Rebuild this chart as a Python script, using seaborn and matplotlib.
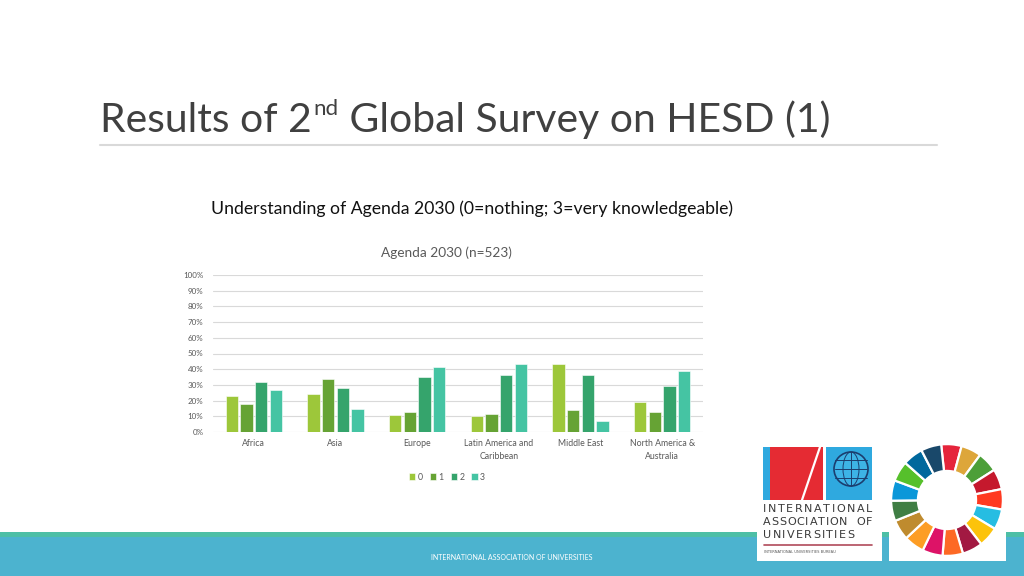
"""
Slide: Results of 2nd Global Survey on HESD (1) - Agenda 2030 understanding by region.
"""

import matplotlib

matplotlib.use("Agg")

import matplotlib.patches as mpatches
import matplotlib.pyplot as plt
import pandas as pd
import seaborn as sns


REGIONS = [
    "Africa",
    "Asia",
    "Europe",
    "Latin America and\nCaribbean",
    "Middle East",
    "North America &\nAustralia",
]
LEVELS = ["0", "1", "2", "3"]
SCORE_0 = [23, 24, 11, 10, 43, 19]
SCORE_1 = [18, 34, 13, 11.5, 14, 13]
SCORE_2 = [32, 28, 35, 36, 36, 29]
SCORE_3 = [27, 14.5, 41.5, 43, 7, 39]
Y_TICKS = [0, 10, 20, 30, 40, 50, 60, 70, 80, 90, 100]

LEVEL_COLORS = ["#9DC73A", "#66A334", "#35A46C", "#45C4A3"]
SDG_COLORS = [
    "#E5243B", "#DDA63A", "#4C9F38", "#C5192D", "#FF3A21", "#26BDE2",
    "#FCC30B", "#A21942", "#FD6925", "#DD1367", "#FD9D24", "#BF8B2E",
    "#3F7E44", "#0A97D9", "#56C02B", "#00689D", "#19486A",
]

W, H = 1024, 576
FONT = "Lato"


def fx(x):
    return x / W


def fy(y):
    return 1 - y / H


def build_frame() -> pd.DataFrame:
    rows = []
    for level, scores in zip(LEVELS, [SCORE_0, SCORE_1, SCORE_2, SCORE_3]):
        for region, value in zip(REGIONS, scores):
            rows.append({"Region": region, "Level": level, "Share": value / 100})
    return pd.DataFrame(rows)


def tracked_text(fig, text, x_left, x_right, y, **kwargs):
    """Place text char by char so that it spans x_left..x_right (letter spacing)."""
    renderer = fig.canvas.get_renderer()
    widths = []
    for ch in text:
        t = fig.text(0, 0, ch if ch != " " else "n", **kwargs)
        widths.append(t.get_window_extent(renderer).width)
        t.remove()
    extra = (x_right - x_left - sum(widths)) / max(len(text) - 1, 1)
    x = x_left
    for ch, w in zip(text, widths):
        if ch != " ":
            fig.text(fx(x), fy(y), ch, va="center", ha="left", **kwargs)
        x += w + extra


def draw_title(fig):
    renderer = fig.canvas.get_renderer()
    color = "#404040"
    x0, y0 = fx(100), fy(132)
    t1 = fig.text(x0, y0, "Results of 2", fontsize=29.4, color=color,
                  family=FONT, va="baseline")
    bb = t1.get_window_extent(renderer)
    t2 = fig.text(bb.x1 / W + 0.002, fy(115), "nd", fontsize=16, color=color,
                  family=FONT, va="baseline")
    bb = t2.get_window_extent(renderer)
    fig.text(bb.x1 / W, y0, " Global Survey on HESD (1)", fontsize=29.4,
             color=color, family=FONT, va="baseline")
    fig.add_artist(plt.Line2D([fx(100), fx(937)], [fy(145), fy(145)],
                              color="#D9D9D9", lw=1.5))


def draw_footer(fig):
    fig.add_artist(mpatches.Rectangle((0, 0), 1, fy(537), color="#4CB3CF", lw=0,
                                      zorder=-2))
    fig.add_artist(mpatches.Rectangle((0, fy(537)), 1, 5 / H, color="#4DBFA6", lw=0,
                                      zorder=-2))
    fig.text(0.5, fy(557), "INTERNATIONAL ASSOCIATION OF UNIVERSITIES",
             fontsize=5, color="white", ha="center", va="center", family=FONT)


def draw_iau_logo(fig):
    fig.add_artist(mpatches.Rectangle((fx(757), fy(561)), 125 / W, 120 / H,
                                      color="white", lw=0, zorder=-1))
    fig.add_artist(mpatches.Rectangle((fx(763), fy(500)), 7 / W, 53 / H,
                                      color="#2FA9DF", lw=0))
    fig.add_artist(mpatches.Rectangle((fx(770), fy(500)), 53 / W, 53 / H,
                                      color="#E52B33", lw=0))
    fig.add_artist(plt.Line2D([fx(802), fx(820)], [fy(500), fy(447)],
                              color="white", lw=1.6))
    fig.add_artist(mpatches.Rectangle((fx(826), fy(500)), 46 / W, 53 / H,
                                      color="#2FA9DF", lw=0))
    fig.add_artist(mpatches.Ellipse((fx(851), fy(469)), 34 / W, 34 / H,
                                    facecolor="#3DB3E6", edgecolor="#1B3E6F", lw=1.2))
    for dy in (-9, 0, 9):
        fig.add_artist(plt.Line2D([fx(835), fx(867)], [fy(469 + dy), fy(469 + dy)],
                                  color="#1B3E6F", lw=0.7))
    fig.add_artist(mpatches.Ellipse((fx(851), fy(469)), 16 / W, 34 / H,
                                    facecolor="none", edgecolor="#1B3E6F", lw=0.7))
    fig.add_artist(plt.Line2D([fx(851), fx(851)], [fy(452), fy(486)],
                              color="#1B3E6F", lw=0.7))
    kw = {"fontsize": 8, "color": "#3A3A3A", "family": "DejaVu Sans"}
    tracked_text(fig, "INTERNATIONAL", 763, 872, 509, **kw)
    tracked_text(fig, "ASSOCIATION OF", 763, 872, 522, **kw)
    tracked_text(fig, "UNIVERSITIES", 763, 854, 535, **kw)
    fig.add_artist(plt.Line2D([fx(764), fx(872)], [fy(545), fy(545)],
                              color="#B04A5A", lw=1.2))
    fig.text(fx(764), fy(552), "INTERNATIONAL UNIVERSITIES BUREAU", fontsize=2.6,
             color="#555555", family="DejaVu Sans", va="center", ha="left")


def draw_sdg_wheel(fig):
    fig.add_artist(mpatches.Rectangle((fx(889), fy(561)), 117 / W, 120 / H,
                                      color="white", lw=0, zorder=-1))
    ax = fig.add_axes([fx(890), fy(557), 114 / W, 114 / H])
    ax.pie([1] * len(SDG_COLORS), colors=SDG_COLORS, startangle=96,
           counterclock=False,
           wedgeprops={"width": 0.48, "edgecolor": "white", "linewidth": 1.6})
    ax.set_xlim(-1.02, 1.02)
    ax.set_ylim(-1.02, 1.02)
    ax.set_aspect("equal")
    ax.axis("off")


def draw_chart(fig):
    df = build_frame()
    ax = fig.add_axes([fx(213), fy(432), 490 / W, 157 / H])
    sns.barplot(data=df, x="Region", y="Share", hue="Level", palette=LEVEL_COLORS,
                saturation=1, width=0.72, gap=0.16, ax=ax, edgecolor="white",
                linewidth=0.4)
    ax.set_ylim(0, 1)
    ax.set_xlim(-0.5, len(REGIONS) - 0.5)
    ax.set_yticks([t / 100 for t in Y_TICKS])
    ax.set_yticklabels([f"{t}%" for t in Y_TICKS])
    ax.set_xlabel("")
    ax.set_ylabel("")
    ax.set_axisbelow(True)
    ax.yaxis.grid(True, color="#D9D9D9", lw=0.8)
    ax.xaxis.grid(False)
    for spine in ax.spines.values():
        spine.set_visible(False)
    ax.tick_params(axis="y", length=0, pad=7, labelsize=5.8, labelcolor="#595959")
    ax.tick_params(axis="x", length=0, pad=5, labelsize=6.3, labelcolor="#595959")
    for label in ax.get_xticklabels():
        label.set_family(FONT)
        label.set_linespacing(1.55)
    for label in ax.get_yticklabels():
        label.set_family(FONT)

    ax.legend(loc="center", bbox_to_anchor=(fx(447), fy(477)),
              bbox_transform=fig.transFigure, ncol=4, frameon=False,
              handlelength=0.7, handleheight=0.7, handletextpad=0.3,
              columnspacing=0.8, prop={"family": FONT, "size": 6.3},
              labelcolor="#595959")

    fig.text(fx(446), fy(253), "Agenda 2030 (n=523)", fontsize=9.8,
             color="#595959", ha="center", va="center", family=FONT)


def main() -> None:
    sns.set_theme(style="white")
    plt.rcParams["font.family"] = [FONT, "DejaVu Sans"]
    fig = plt.figure(figsize=(W / 100, H / 100), dpi=100, facecolor="white")

    draw_title(fig)
    fig.text(fx(472), fy(209),
             "Understanding of Agenda 2030 (0=nothing; 3=very knowledgeable)",
             fontsize=12.7, color="#111111", ha="center", va="center", family=FONT)
    draw_chart(fig)
    draw_footer(fig)
    draw_iau_logo(fig)
    draw_sdg_wheel(fig)

    fig.savefig("out.png", dpi=100, facecolor="white")
    plt.close(fig)


if __name__ == "__main__":
    main()
